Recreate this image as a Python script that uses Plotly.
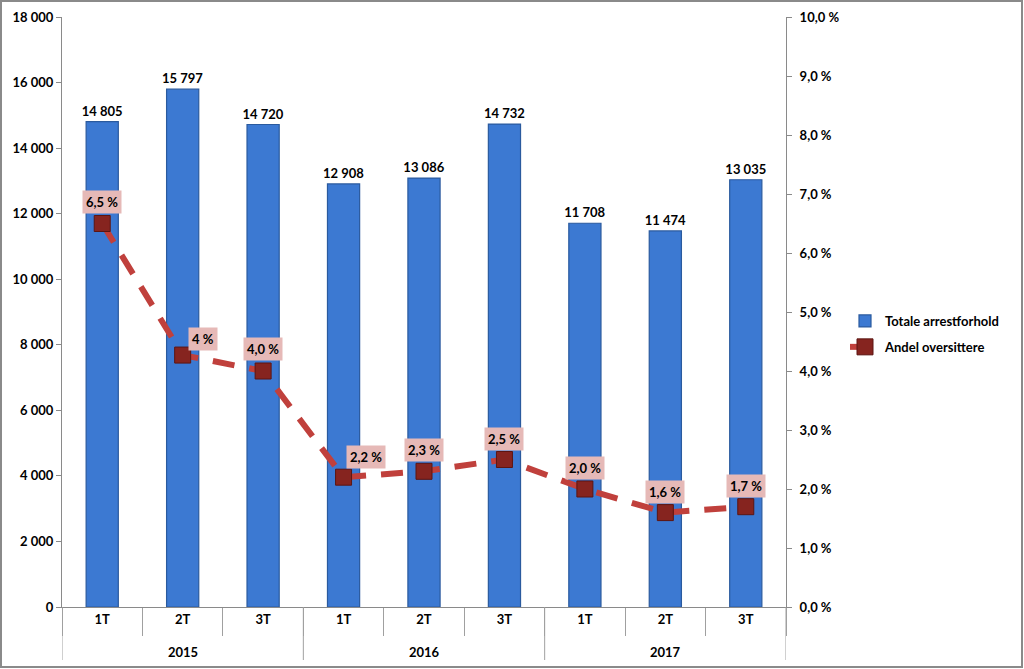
import plotly.graph_objects as go

years = ["2015", "2016", "2017"]
quarters = ["1T", "2T", "3T", "1T", "2T", "3T", "1T", "2T", "3T"]
period_year = ["2015", "2015", "2015", "2016", "2016", "2016", "2017", "2017", "2017"]
arrest_totals = [14805, 15797, 14720, 12908, 13086, 14732, 11708, 11474, 13035]
share_overstay = [6.5, 4.27, 4.0, 2.2, 2.3, 2.5, 2.0, 1.6, 1.7]
share_labels = ["6,5 %", "4 %", "4,0 %", "2,2 %", "2,3 %", "2,5 %", "2,0 %", "1,6 %", "1,7 %"]
left_ticks = list(range(0, 18001, 2000))
right_ticks = list(range(0, 11))
right_ticktext = ["0,0 %", "1,0 %", "2,0 %", "3,0 %", "4,0 %", "5,0 %",
                  "6,0 %", "7,0 %", "8,0 %", "9,0 %", "10,0 %"]

periods = [q + " " + y for q, y in zip(quarters, period_year)]

FONT = "Lato"
FS = 13
L, R, T, B = 62, 238, 17, 62
W, H = 1024, 669
pw, ph = W - L - R, H - T - B

fig = go.Figure()
fig.add_trace(go.Bar(
    x=periods, y=arrest_totals, name="Totale arrestforhold", legendgroup="bars",
    marker=dict(color="#3c79d2", line=dict(color="#2a5a9e", width=1.2)),
    width=0.4,
    texttemplate="%{y:,d}", textposition="outside", cliponaxis=False,
    constraintext="none",
    textfont=dict(family=FONT, size=FS, color="black", weight="bold"),
))
fig.add_trace(go.Scatter(
    x=periods, y=share_overstay, name="Andel oversittere", yaxis="y2", legendgroup="line",
    mode="lines+markers",
    line=dict(color="#c0403c", width=6, dash="22px,15px"),
    marker=dict(symbol="square", size=16, color="#86241f", line=dict(color="#5c1512", width=1)),
))

shifts = [(0, 22), (20, 16), (0, 22), (22, 20), (0, 21), (0, 21), (0, 21), (0, 21), (0, 21)]
for i, (lab, v) in enumerate(zip(share_labels, share_overstay)):
    dx, dy = shifts[i]
    fig.add_annotation(x=periods[i], y=v, xref="x", yref="y2", text="<b>" + lab + "</b>",
                       showarrow=False, xshift=dx, yshift=dy,
                       bgcolor="#e6b9b7", borderpad=3,
                       font=dict(family=FONT, size=FS, color="black"))

# year labels and dividers below the quarter labels
for k, yr in enumerate(years):
    mid = periods[3 * k + 1]
    fig.add_annotation(x=mid, y=-45 / ph, xref="x", yref="paper", text="<b>" + yr + "</b>",
                       showarrow=False, yanchor="middle",
                       font=dict(family=FONT, size=FS, color="black"))
for k in range(len(years) + 1):
    fig.add_shape(type="line", xref="x", yref="paper", x0=3 * k - 0.5, x1=3 * k - 0.5,
                  y0=0, y1=-53 / ph, line=dict(color="#a0a0a0", width=1))

# outer frame
fig.add_shape(type="rect", xref="paper", yref="paper",
              x0=(1 - L) / pw, x1=(W - 2 - L) / pw,
              y0=(ph + T - (H - 2)) / ph, y1=(ph + T - 1) / ph,
              line=dict(color="#8a8a8a", width=2), fillcolor="rgba(0,0,0,0)", layer="below")

fig.update_layout(
    width=W, height=H, margin=dict(l=L, r=R, t=T, b=B, autoexpand=False),
    paper_bgcolor="white", plot_bgcolor="white",
    separators=", ",
    font=dict(family=FONT, size=FS, color="black", weight="bold"),
    showlegend=True,
    legend=dict(x=(845 - L) / pw, y=(ph + T - 306) / ph, xanchor="left", yanchor="top",
                font=dict(family=FONT, size=FS, color="black", weight="bold"),
                bgcolor="rgba(0,0,0,0)", tracegroupgap=6),
    xaxis=dict(type="category", showline=True, linecolor="#8a8a8a", linewidth=1,
               tickvals=periods, ticktext=["<b>" + q + "</b>" for q in quarters],
               ticks="outside", tickson="boundaries", ticklen=28, tickcolor="#a0a0a0",
               range=[-0.5, len(periods) - 0.5], automargin=False,
               tickfont=dict(family=FONT, size=FS, color="black", weight="bold"),
               showgrid=False),
    yaxis=dict(range=[0, 18000], tickvals=left_ticks, tickformat=",d", showgrid=False,
               showline=True, linecolor="#8a8a8a", linewidth=1, ticks="outside",
               ticklen=5, tickcolor="#8a8a8a", zeroline=False, automargin=False,
               tickfont=dict(family=FONT, size=FS, color="black", weight="bold")),
    yaxis2=dict(range=[0, 10], tickvals=right_ticks, ticktext=right_ticktext,
                overlaying="y", side="right", showgrid=False, showline=True,
                linecolor="#8a8a8a", linewidth=1, ticks="outside", ticklen=5,
                tickcolor="#8a8a8a", zeroline=False, automargin=False,
                ticklabelstandoff=5,
                tickfont=dict(family=FONT, size=FS, color="black", weight="bold")),
)

fig.write_html("out.html", config={"displayModeBar": False},
               post_script="document.body.style.margin='0';document.body.style.overflow='hidden';")
